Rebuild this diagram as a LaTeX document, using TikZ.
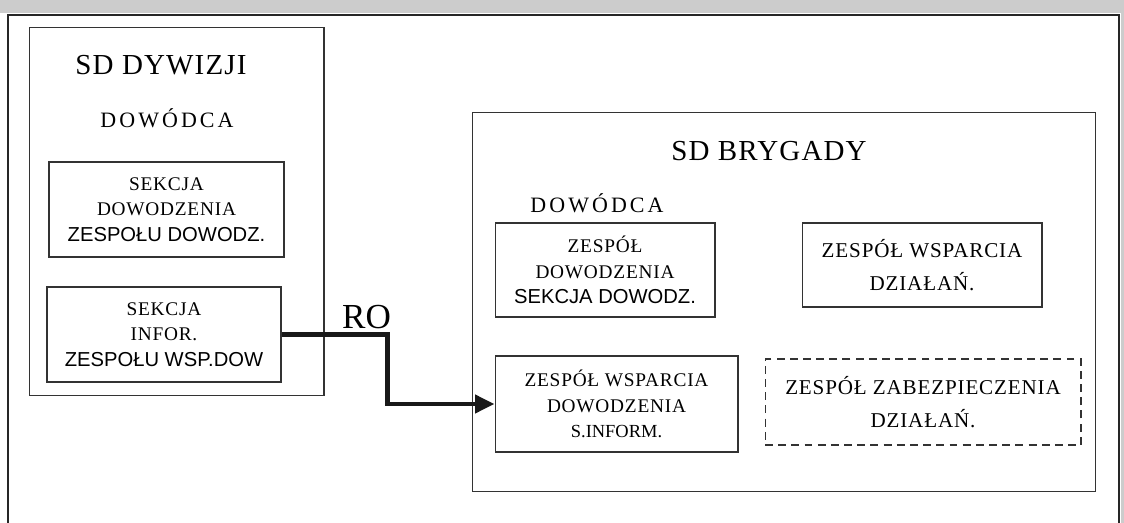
\documentclass[tikz,border=0pt]{standalone}
\usepackage{fontspec}
\setmainfont{Liberation Serif}
\newfontfamily\boxsans{Liberation Sans}
\newfontfamily\spaced{Liberation Serif}[LetterSpace=4]
\newfontfamily\wide{Liberation Serif}[LetterSpace=14]
\usetikzlibrary{arrows.meta,positioning}
\newcommand\sanstext[1]{{\boxsans\fontsize{11.5}{14.4}\selectfont #1}}
\newcommand\plaintext[1]{{\rmfamily\fontsize{10.5}{14.4}\selectfont #1}}

\begin{document}
\begin{tikzpicture}[x=0.02cm,y=-0.02cm,
  frame/.style={rectangle,draw=black!80,line width=0.6pt,inner sep=0pt},
  unit/.style={frame,align=center,font=\fontsize{11}{14.4}\selectfont\spaced},
  wideunit/.style={frame,align=center,font=\fontsize{12}{18.5}\selectfont\spaced},
  title/.style={font=\fontsize{16.5}{20}\selectfont\spaced,anchor=base,inner sep=0pt},
  cmd/.style={font=\fontsize{12.5}{15}\selectfont\wide,anchor=base,inner sep=0pt},
  rim/.style={draw=black!85,line width=0.8pt},
  conn/.style={-{Triangle[length=11pt,width=10pt]},line width=2.8pt,black!90},
  lbl/.style={font=\fontsize{20}{24}\selectfont,anchor=base,inner sep=0pt}
]
\useasboundingbox (0,0) rectangle (1124,523);
\fill[black!20] (0,0) rectangle (1124,13);
\fill[black!20] (1121,0) rectangle (1124,523);
\draw[rim] (8,523) |- (1119,15) -- (1119,523);

\node[frame,minimum width=5.9cm,minimum height=7.38cm] (div) at (176.5,211.5) {};
\node[title] (divtitle) at (161,75) {SD DYWIZJI};
\node[cmd] (divcmd) at (167,128) {DOWÓDCA};
\node[unit,minimum width=4.7cm,minimum height=1.9cm] (sekdow) at (166.5,209.5)
  {SEKCJA\\DOWODZENIA\\\sanstext{ZESPOŁU DOWODZ.}};
\node[unit,minimum width=4.68cm,minimum height=1.9cm] (sekinf) at (164,334.5)
  {SEKCJA\\INFOR.\\\sanstext{ZESPOŁU WSP.DOW}};

\node[frame,minimum width=12.48cm,minimum height=7.6cm] (bryg) at (784,302) {};
\node[title] (brygtitle) at (769,161) {SD BRYGADY};
\node[cmd] (brygcmd) at (597,213) {DOWÓDCA};
\node[unit,minimum width=4.4cm,minimum height=1.88cm] (zdow) at (605,270)
  {ZESPÓŁ\\DOWODZENIA\\\sanstext{SEKCJA DOWODZ.}};
\node[wideunit,minimum width=4.8cm,minimum height=1.68cm] (zwdz) at (922,265)
  {ZESPÓŁ WSPARCIA\\DZIAŁAŃ.};
\node[unit,minimum width=4.86cm,minimum height=1.92cm] (zwdow) at (616.5,404)
  {ZESPÓŁ WSPARCIA\\DOWODZENIA\\\plaintext{S.INFORM.}};
\node[wideunit,dash pattern=on 4.5pt off 3pt,minimum width=6.32cm,minimum height=1.72cm] (zzab) at (923,402)
  {ZESPÓŁ ZABEZPIECZENIA\\DZIAŁAŃ.};

\draw[conn] (sekinf.east) -- ++(106,0) coordinate (bend) |- (zwdow.west);
\node[lbl] (ro) at (366.5,328) {RO};
\end{tikzpicture}
\end{document}
